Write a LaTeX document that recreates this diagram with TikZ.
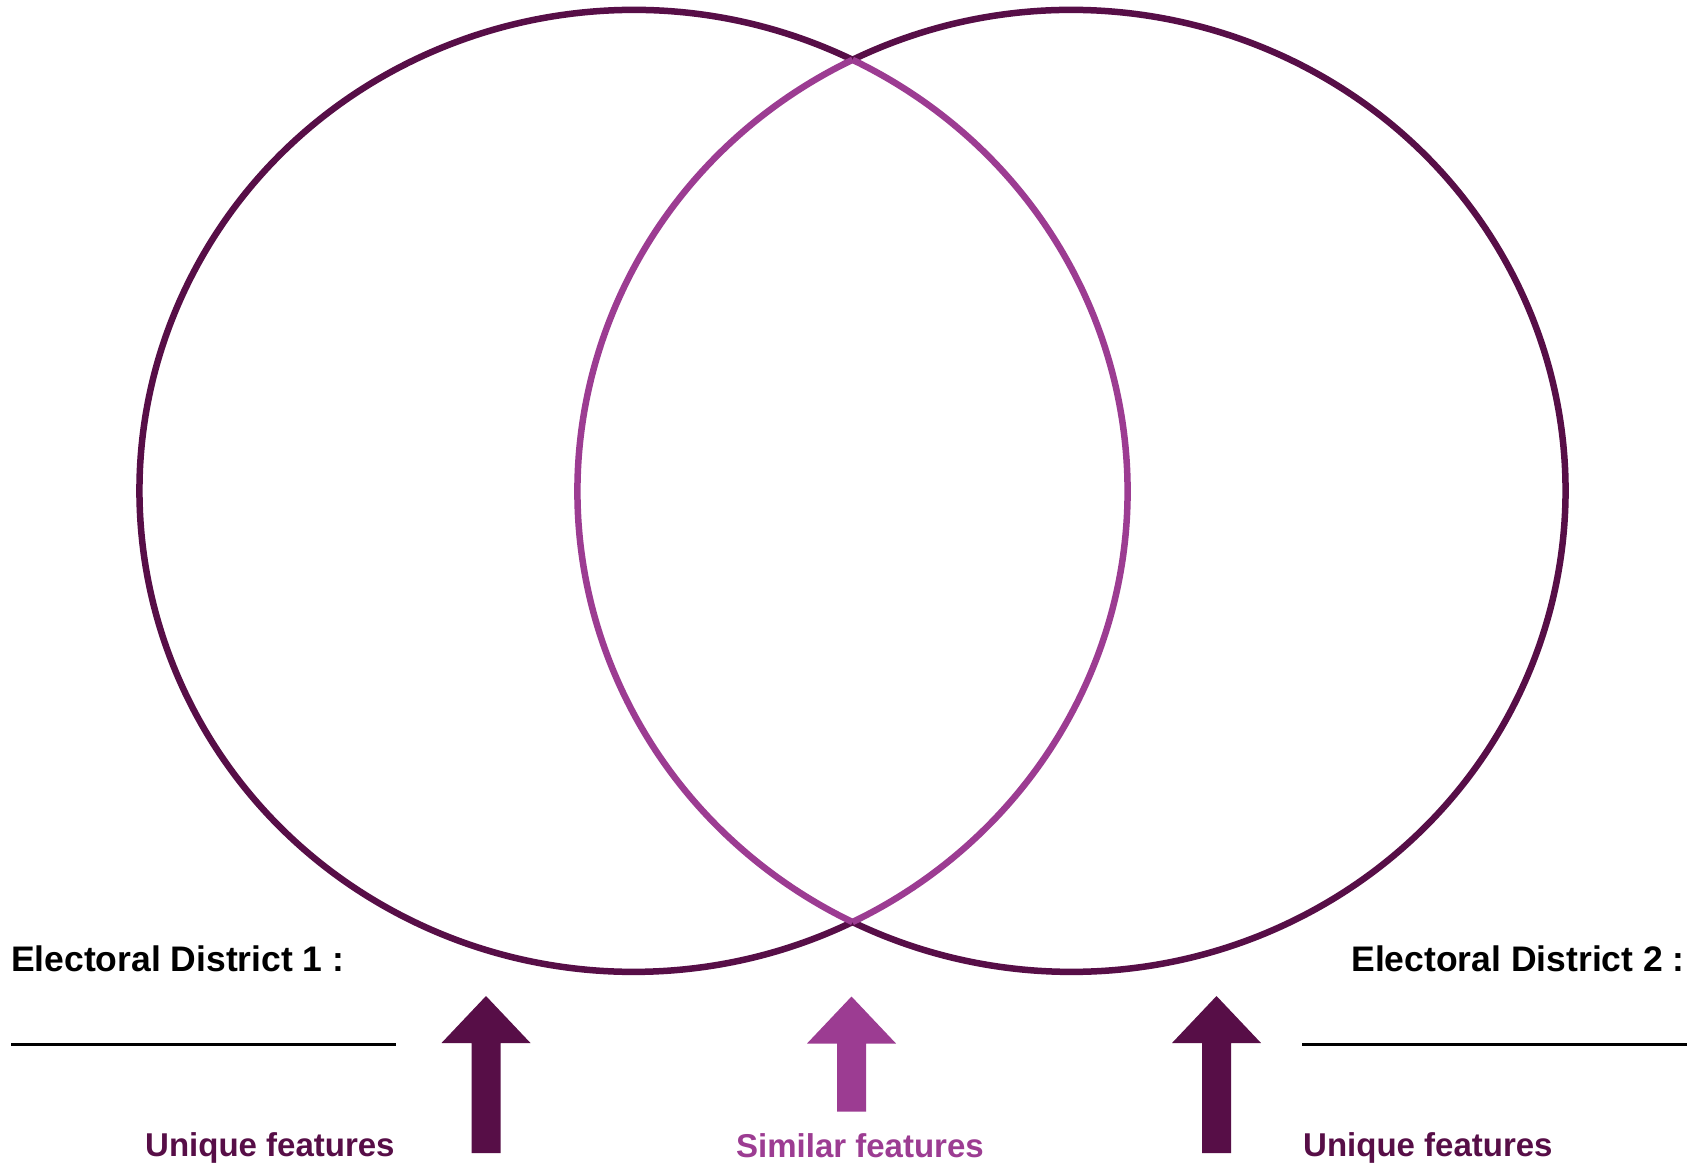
\documentclass[tikz,border=0pt]{standalone}
\usepackage{fontspec}
\setmainfont{Liberation Sans}
\definecolor{plumdark}{RGB}{87,14,71}
\definecolor{orchidmid}{RGB}{156,60,146}
\begin{document}
\begin{tikzpicture}[x=1pt,y=-1pt,
  ringdark/.style={draw=plumdark,line width=6.5pt},
  ringlight/.style={draw=orchidmid,line width=6.5pt},
  bigtxt/.style={inner sep=0pt,font=\bfseries\fontsize{35.5}{40}\selectfont,text=black},
  smalltxt/.style={inner sep=0pt,font=\bfseries\fontsize{33}{38}\selectfont},
  blankline/.style={draw=black,line width=3pt},
  upshape/.style={fill=#1,draw=none}]
\useasboundingbox[fill=white] (0,0) rectangle (1697,1168);
% ring geometry
\coordinate (Lc) at (633.5,491);
\coordinate (Rc) at (1071.5,491);
\coordinate (top) at (852.5,59.8);
\coordinate (bot) at (852.5,922.2);
% outer (dark) arcs
\draw[ringdark] (top) arc[start angle=-63.684,end angle=-296.316,x radius=494,y radius=481];
\draw[ringdark] (top) arc[start angle=-116.316,end angle=116.316,x radius=494,y radius=481];
% inner (lens) arcs
\draw[ringlight] (top) arc[start angle=-63.684,end angle=63.684,x radius=494,y radius=481];
\draw[ringlight] (top) arc[start angle=-116.316,end angle=-243.684,x radius=494,y radius=481];
% labels
\node[bigtxt,anchor=base west] (ed1) at (10.8,971) {Electoral District 1 :};
\node[bigtxt,anchor=base east] (ed2) at (1685,971) {Electoral District 2 :};
\coordinate (l1a) at (11,1044); \coordinate (l1b) at (396,1044);
\coordinate (l2a) at (1302,1044); \coordinate (l2b) at (1687,1044);
\draw[blankline] (l1a) -- (l1b);
\draw[blankline] (l2a) -- (l2b);
\node[smalltxt,anchor=base west,text=plumdark] (uq1) at (145,1156) {Unique features};
\node[smalltxt,anchor=base west,text=orchidmid] (sim) at (736,1157) {Similar features};
\node[smalltxt,anchor=base west,text=plumdark] (uq2) at (1303,1156) {Unique features};
% arrows
\coordinate (a1) at (486,996);
\coordinate (a2) at (851.5,996.5);
\coordinate (a3) at (1216.5,996);
\fill[upshape=plumdark] (a1) -- ++(44.5,47) -- ++(-30,0) -- ++(0,110) -- ++(-29,0) -- ++(0,-110) -- ++(-30,0) -- cycle;
\fill[upshape=orchidmid] (a2) -- ++(44.5,47) -- ++(-30,0) -- ++(0,68) -- ++(-29,0) -- ++(0,-68) -- ++(-30,0) -- cycle;
\fill[upshape=plumdark] (a3) -- ++(44.5,47) -- ++(-30,0) -- ++(0,110) -- ++(-29,0) -- ++(0,-110) -- ++(-30,0) -- cycle;
\end{tikzpicture}
\end{document}
